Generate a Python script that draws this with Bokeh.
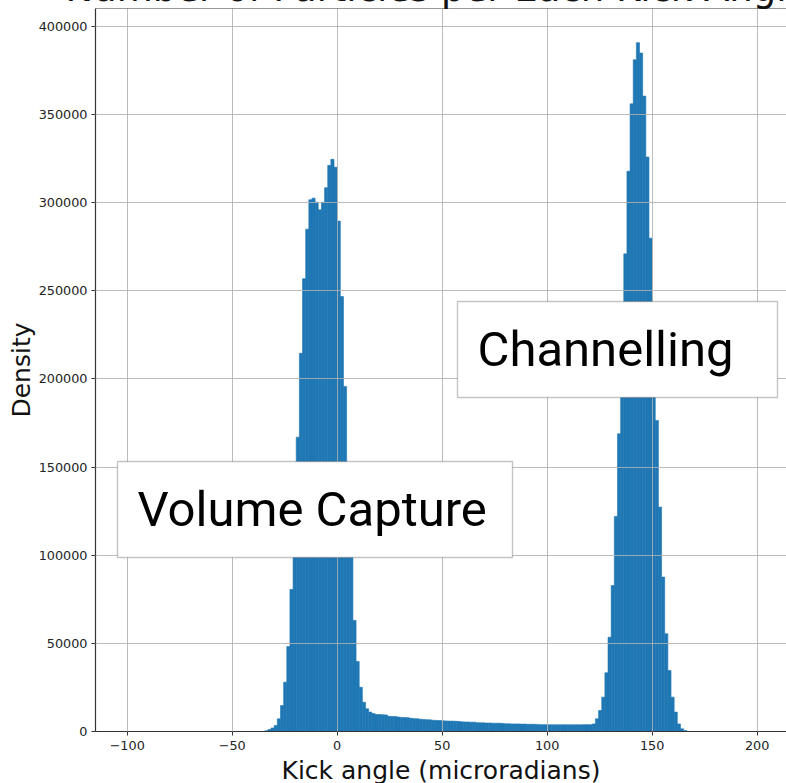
import numpy as np
from bokeh.plotting import figure
from bokeh.models import (Range1d, SingleIntervalTicker, BasicTickFormatter, CustomJSTickFormatter,
                          Label, BoxAnnotation, Span, ColumnDataSource)
from bokeh.embed import file_html
from bokeh.resources import INLINE

# ---- data ----
title_text = "Number of Particles per Each Kick Angle"
x_label = "Kick angle (microradians)"
y_label = "Density"
first_edge = -34.5        # microradians, left edge of the first bin
bin_width = 1.5           # microradians
counts = [
    400, 1100, 2000, 3400, 7200, 14700, 28000, 48200, 80600, 121000,
    167000, 214600, 256900, 285000, 301700, 302600, 300300, 296000, 300300, 308500,
    321200, 324600, 320200, 289600, 246800, 195800, 145000, 101000, 63000, 39700,
    25100, 16600, 12900, 11000, 10200, 9700, 9600, 9500, 9400, 8600,
    8500, 8500, 8200, 8000, 7900, 7800, 7500, 7300, 7200, 7000,
    6800, 6700, 6600, 6400, 6300, 6200, 6100, 6000, 5900, 5900,
    5800, 5700, 5500, 5400, 5400, 5300, 5300, 5000, 4900, 4900,
    4800, 4800, 4700, 4700, 4700, 4600, 4400, 4400, 4300, 4300,
    4300, 4200, 4200, 4100, 4100, 4100, 4000, 3900, 3900, 3900,
    3800, 3800, 3800, 3800, 3800, 3800, 3800, 3800, 3800, 3800,
    3800, 3900, 3900, 3900, 4300, 7200, 11900, 19500, 33300, 53500,
    82800, 122000, 168900, 222000, 271000, 317900, 356100, 381100, 390800, 384900,
    360500, 325900, 279900, 228000, 176500, 127300, 87600, 55400, 34600, 19500,
    11000, 4300, 1500, 500,
]
annotations = ["Volume Capture", "Channelling"]
x_tick_interval = 50
y_tick_interval = 50000

# ---- build ----
edges = first_edge + bin_width * np.arange(len(counts) + 1)
src = ColumnDataSource(dict(left=edges[:-1], right=edges[1:], top=counts,
                            bottom=[0] * len(counts)))

BAR = "#1f77b4"
LABEL_FONT = "DejaVu Sans"

p = figure(frame_width=691, frame_height=723, output_backend="svg", toolbar_location=None,
           x_range=Range1d(-115.1, 214.0), y_range=Range1d(0, 410200),
           min_border_left=94, min_border_right=0, min_border_top=50, min_border_bottom=52,
           styles={"position": "absolute", "top": "-42px", "left": "1px", "margin": "0px"})
p.background_fill_color = "white"
p.border_fill_color = "white"
p.outline_line_color = None

p.quad(left="left", right="right", top="top", bottom="bottom", source=src,
       fill_color=BAR, line_color=BAR, line_width=0.6)

# grid above bars
for g in (p.xgrid, p.ygrid):
    g.grid_line_color = "#b0b0b0"
    g.grid_line_alpha = 0.85
    g.grid_line_width = 1
    g.level = "guide"
p.xgrid.ticker = SingleIntervalTicker(interval=x_tick_interval)
p.ygrid.ticker = SingleIntervalTicker(interval=y_tick_interval)

p.xaxis.ticker = SingleIntervalTicker(interval=x_tick_interval)
p.yaxis.ticker = SingleIntervalTicker(interval=y_tick_interval)
p.yaxis.formatter = BasicTickFormatter(use_scientific=False)
p.xaxis.formatter = CustomJSTickFormatter(
    code="return tick < 0 ? '\u2212' + Math.abs(tick).toString() : tick.toString();")

for ax in (p.xaxis[0], p.yaxis[0]):
    ax.axis_line_color = "#333333"
    ax.axis_line_width = 1.2
    ax.major_tick_line_color = "#333333"
    ax.major_tick_out = 4
    ax.major_tick_in = 0
    ax.minor_tick_line_color = None
    ax.major_label_text_font = LABEL_FONT
    ax.major_label_text_font_size = "12.8px"
    ax.major_label_text_color = "#222222"
    ax.major_label_standoff = 4
    ax.axis_label_text_font = LABEL_FONT
    ax.axis_label_text_font_size = "25px"
    ax.axis_label_text_font_style = "normal"
    ax.axis_label_text_color = "#111111"
    ax.axis_label_standoff = 0
p.xaxis[0].major_label_standoff = 5
p.xaxis[0].axis_label_standoff = 3

p.xaxis.axis_label = x_label
p.yaxis.axis_label = y_label

# top frame line
p.add_layout(Span(location=p.y_range.end, dimension="width",
                  line_color="#333333", line_width=1.2))

# partially visible title above the frame
p.title.text = title_text
p.title.align = "left"
p.title.offset = -30
p.title.standoff = -3
p.title.text_font = LABEL_FONT
p.title.text_font_size = "37px"
p.title.text_font_style = "normal"
p.title.text_color = "#111111"
p.title.text_line_height = 1.0

# annotation boxes
BOX_LINE = "#3c3c3c"
p.add_layout(BoxAnnotation(left=22, right=417, bottom=174, top=270,
                           left_units="screen", right_units="screen",
                           bottom_units="screen", top_units="screen",
                           fill_color="white", fill_alpha=1.0,
                           line_color=BOX_LINE, line_width=1.4, level="annotation"))
p.add_layout(BoxAnnotation(left=362, right=682, bottom=334, top=430,
                           left_units="screen", right_units="screen",
                           bottom_units="screen", top_units="screen",
                           fill_color="white", fill_alpha=1.0,
                           line_color=BOX_LINE, line_width=1.4, level="annotation"))
p.add_layout(Label(x=42, y=222, x_units="screen", y_units="screen", text=annotations[0],
                   text_font="Roboto", text_font_size="49px", text_color="black",
                   text_baseline="middle", text_align="left", level="overlay"))
p.add_layout(Label(x=382, y=382, x_units="screen", y_units="screen", text=annotations[1],
                   text_font="Roboto", text_font_size="49px", text_color="black",
                   text_baseline="middle", text_align="left", level="overlay"))

open("out.html", "w").write(file_html(p, INLINE))
